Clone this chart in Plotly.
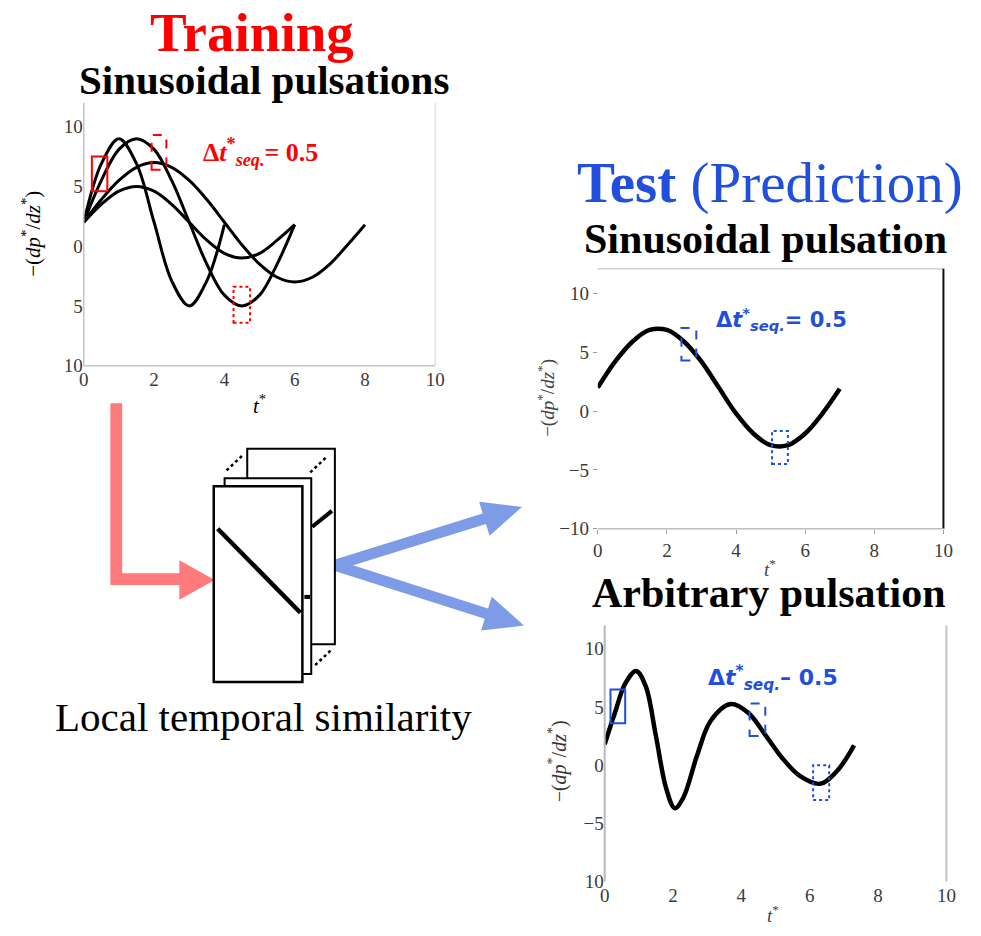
import math
import plotly.graph_objects as go

W, H = 981, 936

# ---------------- data ----------------
# training: four sinusoidal pulsations
t_train_a = [0, 0.5, 1, 1.5, 2, 2.5, 3, 3.5, 4]
p_train_a = [2, 6.9, 9, 6.9, 2, -2.9, -5, -2.9, 1.8]

t_train_b = [0, 0.5, 1, 1.5, 2, 2.5, 3, 3.5, 4, 4.5, 5, 5.5, 6]
p_train_b = [2, 5.5, 8.1, 9, 8.1, 5.5, 2, -1.5, -4.1, -5, -4.1, -1.5, 1.8]

t_train_c = [0, 0.5, 1, 1.5, 2, 2.5, 3, 3.5, 4, 4.5, 5, 5.5, 6]
p_train_c = [2, 3.5, 4.6, 5, 4.6, 3.5, 2, 0.5, -0.6, -1, -0.6, 0.5, 1.8]

t_train_d = [0, 0.5, 1, 1.5, 2, 2.5, 3, 3.5, 4, 4.5, 5, 5.5, 6, 6.5, 7, 7.5, 8]
p_train_d = [2, 3.9, 5.5, 6.6, 7, 6.6, 5.5, 3.9, 2, 0.1, -1.5, -2.6, -3, -2.6, -1.5, 0.1, 1.8]

# test: sinusoidal pulsation
t_test_sin = [0, 0.5, 1, 1.5, 2, 2.5, 3, 3.5, 4, 4.5, 5, 5.5, 6, 6.5, 7]
p_test_sin = [2, 4.2, 5.9, 6.9, 6.9, 5.9, 4.2, 2, -0.2, -1.9, -2.9, -2.9, -1.9, -0.2, 1.9]

# test: arbitrary pulsation
t_test_arb = [0, 0.3, 0.6, 0.92, 1.2, 1.5, 1.8, 2.05, 2.3, 2.7, 3.1, 3.69, 4.2, 4.7, 5.2, 5.7, 6.3, 6.8, 7.3]
p_test_arb = [1.8, 4.5, 7.0, 8.1, 6.8, 2.5, -2.0, -3.7, -2.8, 0.8, 3.8, 5.25, 4.5, 2.6, 0.6, -0.9, -1.6, -0.5, 1.7]

# sequence windows (t0, t1, p0, p1, style)
win_train = [(0.23, 0.67, 4.6, 7.5, "solid"), (1.93, 2.35, 6.4, 9.3, "dash"), (4.26, 4.73, -6.4, -3.4, "dot")]
win_sin = [(2.42, 2.85, 4.3, 7.06, "dash"), (5.04, 5.5, -4.5, -1.7, "dot")]
win_arb = [(0.17, 0.6, 3.6, 6.5, "solid"), (4.24, 4.7, 2.5, 5.3, "dash"), (6.1, 6.57, -3.0, 0.0, "dot")]

x_ticks = [0, 2, 4, 6, 8, 10]
y_ticks = [-10, -5, 0, 5, 10]
y_labels_train = ["10", "5", "0", "5", "10"]
y_labels_sin = ["\u221210", "\u22125", "0", "5", "10"]
y_labels_arb = ["10", "\u22125", "0", "5", "10"]

RED = "#ff0000"
BLUE = "#1f4fdc"
SERIF = "Liberation Serif"


def px(x):
    return x / W


def py(y):
    return 1 - y / H


fig = go.Figure()

for t, p in [(t_train_a, p_train_a), (t_train_b, p_train_b), (t_train_c, p_train_c), (t_train_d, p_train_d)]:
    fig.add_trace(go.Scatter(x=t, y=p, mode="lines", line=dict(color="black", width=3, shape="spline"),
                             xaxis="x", yaxis="y", showlegend=False, hoverinfo="skip"))
fig.add_trace(go.Scatter(x=t_test_sin, y=p_test_sin, mode="lines", line=dict(color="black", width=4.5, shape="spline"),
                         xaxis="x2", yaxis="y2", showlegend=False, hoverinfo="skip"))
fig.add_trace(go.Scatter(x=t_test_arb, y=p_test_arb, mode="lines", line=dict(color="black", width=4.5, shape="spline"),
                         xaxis="x3", yaxis="y3", showlegend=False, hoverinfo="skip"))

tickfont = dict(family=SERIF, size=19, color="#3a3a3a")


def axes(n, xdom, ydom, yrange, ylabels, ticks=""):
    sx = "" if n == 1 else str(n)
    fig.update_layout(**{
        "xaxis" + sx: dict(domain=xdom, range=[0, 10], tickvals=x_ticks, showgrid=False, zeroline=False,
                           showline=False, tickfont=tickfont, anchor="y" + sx, ticks=ticks, ticklen=4,
                           tickcolor="#999", fixedrange=True),
        "yaxis" + sx: dict(domain=ydom, range=yrange, tickvals=y_ticks, ticktext=ylabels, showgrid=False,
                           zeroline=False, showline=False, tickfont=tickfont, anchor="x" + sx, ticks=ticks,
                           ticklen=4, tickcolor="#999", fixedrange=True),
    })


axes(1, [px(80), px(437)], [py(370), py(104)], [-10, 12], y_labels_train)
axes(2, [px(602), px(953)], [py(535), py(272)], [-10, 12.1], y_labels_sin, ticks="outside")
axes(3, [px(609), px(956)], [py(892), py(633)], [-10, 12], y_labels_arb)

shapes = []


def border(sx, side, color, width=1.5):
    xr, yr = "x%s domain" % sx, "y%s domain" % sx
    pos = {"left": (0, 0, 0, 1), "right": (1, 0, 1, 1), "bottom": (0, 0, 1, 0), "top": (0, 1, 1, 1)}[side]
    shapes.append(dict(type="line", xref=xr, yref=yr, x0=pos[0], y0=pos[1], x1=pos[2], y1=pos[3],
                       line=dict(color=color, width=width)))


border("", "left", "#c4c4c4")
border("", "bottom", "#c4c4c4")
border("", "right", "#e2e2e2")
border("2", "top", "#cfcfcf")
border("2", "right", "#111", 2)
border("2", "bottom", "#bdbdbd")
border("3", "left", "#b8b8b8", 2)
border("3", "right", "#c4c4c4", 2)


def windows(sx, wins, color):
    for t0, t1, p0, p1, dash in wins:
        shapes.append(dict(type="rect", xref="x" + sx, yref="y" + sx, x0=t0, x1=t1, y0=p0, y1=p1,
                           line=dict(color=color, width=2, dash=dash)))


windows("", win_train, RED)
windows("2", win_sin, BLUE)
windows("3", win_arb, BLUE)


# ---------------- schematic in the middle ----------------
def poly(points, color):
    d = "M " + " L ".join("%f,%f" % (px(x), py(y)) for x, y in points) + " Z"
    shapes.append(dict(type="path", xref="paper", yref="paper", path=d, fillcolor=color,
                       line=dict(width=0), layer="above"))


def arrow(x0, y0, x1, y1, shaft, head_len, head_w, color):
    dx, dy = x1 - x0, y1 - y0
    L = math.hypot(dx, dy)
    ux, uy = dx / L, dy / L
    nx, ny = -uy, ux
    bx, by = x1 - ux * head_len, y1 - uy * head_len
    s, h = shaft / 2, head_w / 2
    pts = [(x0 + nx * s, y0 + ny * s), (bx + nx * s, by + ny * s), (bx + nx * h, by + ny * h), (x1, y1),
           (bx - nx * h, by - ny * h), (bx - nx * s, by - ny * s), (x0 - nx * s, y0 - ny * s)]
    poly(pts, color)


# red elbow arrow from the training plot into the window stack
poly([(107, 408), (119, 408), (119, 580), (177, 580), (177, 567), (213, 587), (177, 607), (177, 592),
      (107, 592)], "#ff7b7b")

# blue arrows towards the two predictions
arrow(335, 572, 525, 513, 11, 40, 36, "#7d9be6")
arrow(335, 572, 527, 633, 11, 40, 36, "#7d9be6")


def rect(x0, y0, x1, y1, w=2):
    shapes.append(dict(type="rect", xref="paper", yref="paper", x0=px(x0), x1=px(x1), y0=py(y1), y1=py(y0),
                       fillcolor="white", line=dict(color="black", width=w), layer="above"))


def seg(x0, y0, x1, y1, w=4, dash="solid"):
    shapes.append(dict(type="line", xref="paper", yref="paper", x0=px(x0), y0=py(y0), x1=px(x1), y1=py(y1),
                       line=dict(color="black", width=w, dash=dash), layer="above"))


rect(246, 454, 335, 652)
seg(312, 533, 332, 517, 4)
rect(223, 484, 311, 682)
seg(304, 604, 310, 604, 4)
rect(212, 492, 302, 690, 2.5)
seg(216, 535, 300, 620, 4.5)
seg(225, 476, 241, 461, 2.5, "dot")
seg(310, 478, 327, 462, 2.5, "dot")
seg(315, 673, 331, 658, 2.5, "dot")

fig.update_layout(shapes=shapes)

# ---------------- text ----------------
ann = []


def text(x, y, s, size, color="black", family=SERIF, angle=0):
    ann.append(dict(xref="paper", yref="paper", x=px(x), y=py(y), text=s, showarrow=False, xanchor="center",
                    yanchor="middle", textangle=angle, font=dict(family=family, size=size, color=color)))


text(251, 33, "<b>Training</b>", 55, RED)
text(263, 81, "<b>Sinusoidal pulsations</b>", 41)
text(777, 185, "<b>Test</b> (Prediction)", 57, BLUE)
text(772, 242, "<b>Sinusoidal pulsation</b>", 42)
text(776, 600, "<b>Arbitrary pulsation</b>", 42)
text(263, 726, "Local temporal similarity", 41)

dt = "<b>\u0394<i>t</i><sup>*</sup><sub><i>seq.</i></sub>= 0.5</b>"
text(259, 154, dt, 26, RED)
text(789, 323, dt, 21, BLUE, "DejaVu Sans")
text(780, 686, dt.replace("= 0.5", "\u2013 0.5"), 22, BLUE, "DejaVu Sans")

ytitle = "\u2212(<i>dp</i><sup>*</sup>/<i>dz</i><sup>*</sup>)"
xtitle = "<i>t</i><sup>*</sup>"
text(27, 237, ytitle, 21, angle=-90)
text(550, 403, ytitle, 19, "#444", angle=-90)
text(562, 770, ytitle, 20, "#333", angle=-90)
text(258, 409, xtitle, 21)
text(777, 575, xtitle, 19, "#444")
text(780, 925, xtitle, 19, "#444")

fig.update_layout(annotations=ann, width=W, height=H, autosize=False,
                  margin=dict(l=0, r=0, t=0, b=0), paper_bgcolor="white", plot_bgcolor="white",
                  showlegend=False)

fig.write_html("out.html")
